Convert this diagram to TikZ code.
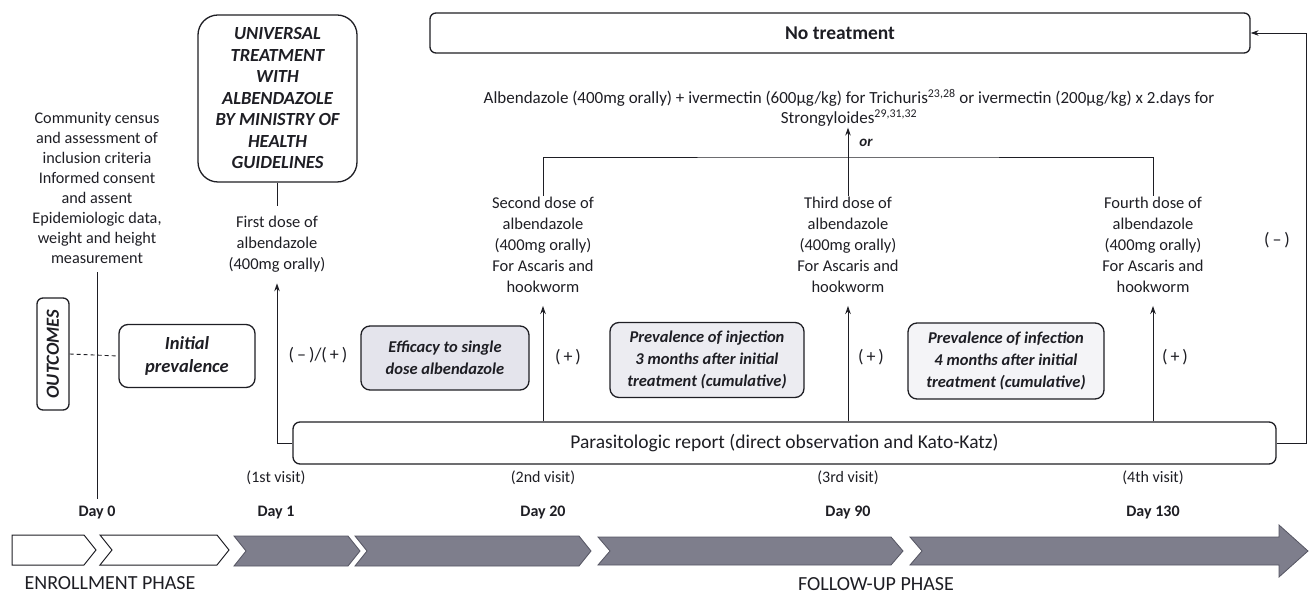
\documentclass[tikz,border=0pt]{standalone}
\usepackage{fontspec}
\setmainfont{Carlito}
\usetikzlibrary{arrows.meta}
\definecolor{ink}{RGB}{30,30,36}
\definecolor{bandgray}{RGB}{126,126,140}
\definecolor{bandedge}{RGB}{85,85,98}
\definecolor{fillA}{RGB}{228,228,236}
\definecolor{fillB}{RGB}{236,236,241}
\definecolor{fillC}{RGB}{244,244,247}
\tikzset{
  txt/.style={font=\fontsize{16.5}{21}\selectfont, align=center, inner sep=1pt, text=ink},
  rbox/.style={draw=ink, line width=1.3pt, rounded corners=9pt, align=center, inner sep=2pt, text=ink,
     font=\fontsize{16.5}{22}\selectfont\bfseries\itshape},
  conn/.style={line width=0.9pt, draw=ink},
  arr/.style={conn, -{Stealth[length=8pt,width=5.5pt]}},
  dayl/.style={font=\fontsize{16}{18}\selectfont\bfseries, text=ink, inner sep=1pt},
  visitl/.style={font=\fontsize{16}{18}\selectfont, text=ink, inner sep=1pt},
  signl/.style={font=\fontsize{18}{20}\selectfont, text=ink, inner sep=1pt},
  phasel/.style={font=\fontsize{20}{22}\selectfont, text=ink, inner sep=1pt},
  chevw/.style={draw=ink, line width=1pt, fill=white},
  chevg/.style={draw=bandedge, line width=0.8pt, fill=bandgray},
}
\begin{document}
\begin{tikzpicture}[x=1pt,y=-1pt]
\useasboundingbox (0,0) rectangle (1312,593);

% top box
\node[draw=ink, line width=1.3pt, rounded corners=6pt, minimum width=820, minimum height=40,
      font=\fontsize{19.5}{22}\selectfont\bfseries, text=ink] (notreat) at (840,33) {No treatment};

% universal treatment
\node[rbox, rounded corners=20pt, minimum width=159, minimum height=167, inner sep=0pt,
      font=\fontsize{18.5}{21.5}\selectfont\bfseries\itshape] (univ) at (277.5,98.5)
  {UNIVERSAL\\TREATMENT\\WITH\\ALBENDAZOLE\\BY MINISTRY OF\\HEALTH\\GUIDELINES};

% community census
\node[txt, font=\fontsize{16.2}{19.9}\selectfont] (comm) at (97,188)
  {Community census\\and assessment of\\inclusion criteria\\Informed consent\\and assent\\Epidemiologic data,\\weight and height\\measurement};

% albendazole + ivermectin
\node[txt, font=\fontsize{17}{19.5}\selectfont] (alb) at (849,108)
  {Albendazole (400mg orally) + ivermectin (600µg/kg) for Trichuris\textsuperscript{23,28} or ivermectin (200µg/kg) x 2.days for\\Strongyloides\textsuperscript{29,31,32}};

% dose texts
\node[txt] (dose1) at (277,244) {First dose of\\albendazole\\(400mg orally)};
\node[txt] (dose2) at (543,245) {Second dose of\\albendazole\\(400mg orally)\\For Ascaris and\\hookworm};
\node[txt] (dose3) at (848,245) {Third dose of\\albendazole\\(400mg orally)\\For Ascaris and\\hookworm};
\node[txt] (dose4) at (1153,245) {Fourth dose of\\albendazole\\(400mg orally)\\For Ascaris and\\hookworm};

% outcome boxes
\node[rbox, rotate=90, minimum width=112, minimum height=32, rounded corners=6pt, inner sep=0pt,
      font=\fontsize{18.5}{20}\selectfont\bfseries\itshape] (outc) at (53,354) {OUTCOMES};
\node[rbox, fill=white, minimum width=136, minimum height=63,
      font=\fontsize{18.5}{23}\selectfont\bfseries\itshape] (initp) at (187,356) {Initial\\prevalence};
\node[rbox, fill=fillA, minimum width=168, minimum height=64] (effic) at (445,358) {Efficacy to single\\dose albendazole};
\node[rbox, fill=fillB, minimum width=194, minimum height=75] (prev3) at (707,360) {Prevalence of injection\\3 months after initial\\treatment (cumulative)};
\node[rbox, fill=fillC, minimum width=196, minimum height=76] (prev4) at (1006,361) {Prevalence of infection\\4 months after initial\\treatment (cumulative)};

% parasitologic report
\node[draw=ink, line width=1.3pt, rounded corners=7pt, minimum width=983, minimum height=42,
      font=\fontsize{19.5}{22}\selectfont, text=ink] (para) at (784.5,443)
  {Parasitologic report (direct observation and Kato-Katz)};

% sign labels
\node[signl] (s1) at (318,355) {(\,–\,)/(\,+\,)};
\node[signl] (s2) at (568,357) {(\,+\,)};
\node[signl] (s3) at (871,357) {(\,+\,)};
\node[signl] (s4) at (1175,357) {(\,+\,)};
\node[signl] (s5) at (1277,240) {(\,–\,)};
\node[font=\fontsize{15}{17}\selectfont\bfseries\itshape, text=ink, inner sep=1pt] (orl) at (866,143) {or};

% visits and days
\node[visitl] (v1) at (276,478) {(1st visit)};
\node[visitl] (v2) at (543,478) {(2nd visit)};
\node[visitl] (v3) at (848,478) {(3rd visit)};
\node[visitl] (v4) at (1153,478) {(4th visit)};
\node[dayl] (d0) at (97,513) {Day 0};
\node[dayl] (d1) at (276,513) {Day 1};
\node[dayl] (d20) at (543,513) {Day 20};
\node[dayl] (d90) at (848,513) {Day 90};
\node[dayl] (d130) at (1153,513) {Day 130};

% connectors
\draw[conn] (univ.south) -- ([yshift=-23pt]univ.south);
\draw[arr, shorten >=10pt] (para.west) -| (dose1.south);
\draw[arr, shorten >=12pt] (para.north -| dose2.south) -- (dose2.south);
\draw[arr, shorten >=12pt] (para.north -| dose3.south) -- (dose3.south);
\draw[arr, shorten >=12pt] (para.north -| dose4.south) -- (dose4.south);
\coordinate (branch) at (848,157);
\draw[conn] (dose2.north) |- (branch) -| (dose4.north);
\draw[arr] (dose3.north) -- (alb.south -| dose3.north);
\draw[arr] (para.east) -- ++(30,0) |- (notreat.east);
\draw[conn, dashed, dash pattern=on 4pt off 3pt] (outc.south) -- (initp.west);
\draw[conn, line width=0.7pt, shorten <=8pt, shorten >=6pt] (comm.south) -- (d0.north);

% timeline band
\draw[chevw] (12,535) -- (84,535) -- (96,550) -- (84,565) -- (12,565) -- cycle;
\draw[chevw] (100,535) -- (217,535) -- (229,550) -- (217,565) -- (100,565) -- (112,550) -- cycle;
\draw[chevg] (234,536) -- (348,536) -- (360,551) -- (348,566) -- (234,566) -- (246,551) -- cycle;
\draw[chevg] (355,536) -- (579,536) -- (591,551) -- (579,566) -- (355,566) -- (367,551) -- cycle;
\draw[chevg] (598,537) -- (891,537) -- (903,551) -- (891,565) -- (598,565) -- (610,551) -- cycle;
\draw[chevg] (910,537) -- (1279,537) -- (1279,525) -- (1308,551) -- (1279,577) -- (1279,565) -- (910,565) -- (922,551) -- cycle;

\node[phasel] (ph1) at (110,583) {ENROLLMENT PHASE};
\node[phasel] (ph2) at (876,584) {FOLLOW-UP PHASE};
\end{tikzpicture}
\end{document}
